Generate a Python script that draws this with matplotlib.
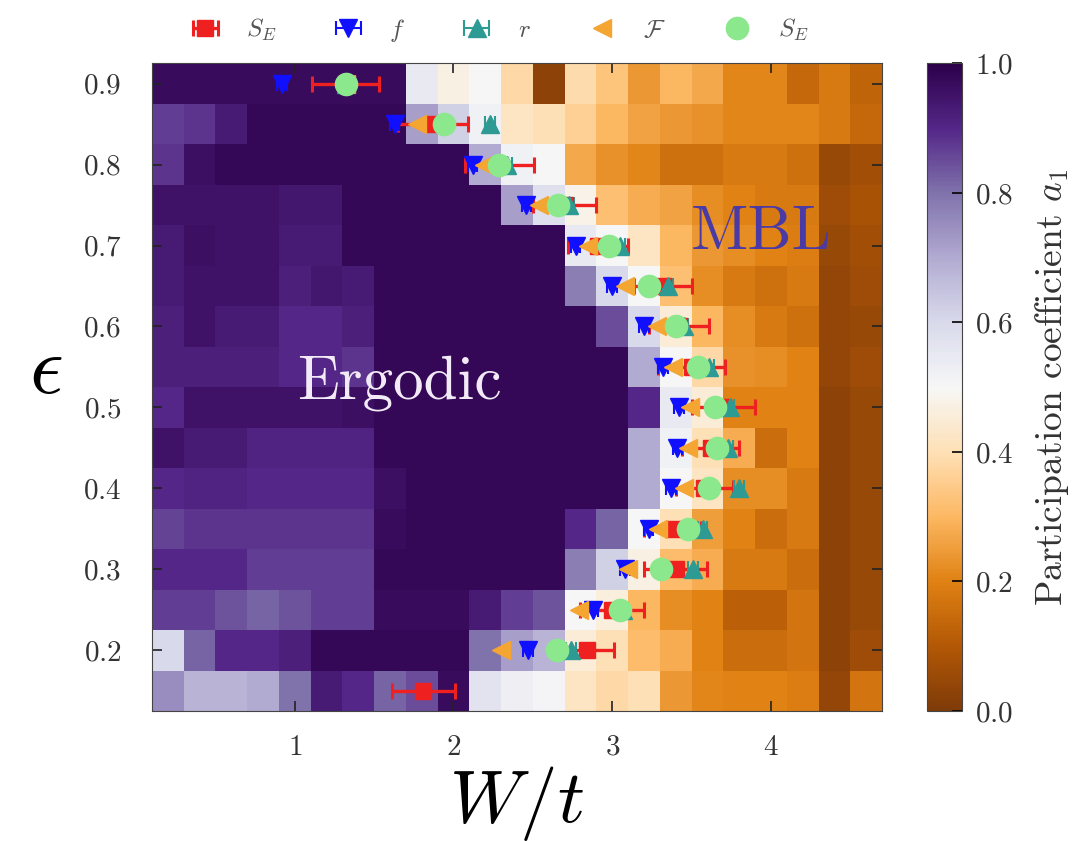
import numpy as np
import matplotlib
matplotlib.use("Agg")
import matplotlib.pyplot as plt

# fonts: computer modern look
plt.rcParams['font.family'] = 'serif'
plt.rcParams['font.serif'] = ['cmr10', 'DejaVu Serif']
plt.rcParams['mathtext.fontset'] = 'cm'
plt.rcParams['axes.formatter.use_mathtext'] = True

# heatmap grid (cell centers)
w_centers = [0.2, 0.4, 0.6, 0.8, 1.0, 1.2, 1.4, 1.6, 1.8, 2.0, 2.2, 2.4,
             2.6, 2.8, 3.0, 3.2, 3.4, 3.6, 3.8, 4.0, 4.2, 4.4, 4.6]
eps_centers = [0.15, 0.2, 0.25, 0.3, 0.35, 0.4, 0.45, 0.5,
               0.55, 0.6, 0.65, 0.7, 0.75, 0.8, 0.85, 0.9]

# participation coefficient a_1, one row per epsilon (bottom to top)
a1 = [
    [0.75, 0.68, 0.68, 0.70, 0.80, 0.93, 0.90, 0.82, 0.85, 0.97, 0.57, 0.53, 0.51, 0.42, 0.38, 0.40, 0.24, 0.21, 0.20, 0.20, 0.19, 0.04, 0.17],
    [0.60, 0.82, 0.90, 0.90, 0.92, 0.98, 0.98, 0.98, 0.98, 0.98, 0.80, 0.72, 0.68, 0.45, 0.40, 0.31, 0.28, 0.20, 0.15, 0.15, 0.17, 0.03, 0.06],
    [0.87, 0.87, 0.84, 0.82, 0.84, 0.87, 0.87, 0.97, 0.97, 0.97, 0.93, 0.87, 0.84, 0.50, 0.46, 0.30, 0.22, 0.20, 0.12, 0.12, 0.17, 0.03, 0.05],
    [0.90, 0.90, 0.90, 0.87, 0.87, 0.87, 0.87, 0.98, 0.98, 0.98, 0.98, 0.98, 0.98, 0.78, 0.62, 0.47, 0.31, 0.28, 0.18, 0.18, 0.15, 0.03, 0.05],
    [0.86, 0.88, 0.88, 0.88, 0.88, 0.88, 0.88, 0.97, 0.98, 0.98, 0.98, 0.98, 0.98, 0.90, 0.82, 0.50, 0.40, 0.25, 0.20, 0.15, 0.18, 0.03, 0.05],
    [0.90, 0.91, 0.91, 0.90, 0.90, 0.90, 0.90, 0.96, 0.98, 0.98, 0.98, 0.98, 0.98, 0.98, 0.98, 0.70, 0.50, 0.42, 0.22, 0.22, 0.18, 0.03, 0.05],
    [0.95, 0.93, 0.93, 0.91, 0.91, 0.91, 0.91, 0.98, 0.98, 0.98, 0.98, 0.98, 0.98, 0.98, 0.98, 0.70, 0.52, 0.40, 0.28, 0.15, 0.20, 0.03, 0.05],
    [0.90, 0.95, 0.95, 0.95, 0.95, 0.95, 0.96, 0.98, 0.98, 0.98, 0.98, 0.98, 0.98, 0.98, 0.98, 0.90, 0.55, 0.45, 0.20, 0.20, 0.20, 0.03, 0.05],
    [0.92, 0.92, 0.92, 0.92, 0.90, 0.90, 0.88, 0.98, 0.98, 0.98, 0.98, 0.98, 0.98, 0.98, 0.98, 0.70, 0.50, 0.38, 0.23, 0.22, 0.20, 0.04, 0.06],
    [0.92, 0.95, 0.93, 0.93, 0.90, 0.90, 0.92, 0.98, 0.98, 0.98, 0.98, 0.98, 0.98, 0.98, 0.85, 0.60, 0.45, 0.30, 0.22, 0.18, 0.16, 0.04, 0.05],
    [0.93, 0.95, 0.95, 0.95, 0.92, 0.94, 0.93, 0.98, 0.98, 0.98, 0.98, 0.98, 0.98, 0.78, 0.60, 0.50, 0.32, 0.22, 0.18, 0.16, 0.18, 0.04, 0.06],
    [0.93, 0.96, 0.95, 0.95, 0.93, 0.93, 0.98, 0.98, 0.98, 0.98, 0.98, 0.98, 0.98, 0.55, 0.50, 0.42, 0.30, 0.24, 0.22, 0.20, 0.19, 0.05, 0.07],
    [0.95, 0.95, 0.95, 0.95, 0.94, 0.94, 0.98, 0.98, 0.98, 0.98, 0.98, 0.72, 0.58, 0.48, 0.32, 0.28, 0.26, 0.22, 0.20, 0.18, 0.18, 0.06, 0.08],
    [0.88, 0.96, 0.98, 0.98, 0.98, 0.98, 0.98, 0.98, 0.98, 0.98, 0.70, 0.52, 0.50, 0.27, 0.23, 0.21, 0.16, 0.16, 0.18, 0.18, 0.16, 0.05, 0.07],
    [0.87, 0.88, 0.93, 0.98, 0.98, 0.98, 0.98, 0.98, 0.72, 0.62, 0.52, 0.42, 0.40, 0.36, 0.30, 0.26, 0.24, 0.23, 0.21, 0.21, 0.21, 0.18, 0.14],
    [0.97, 0.97, 0.97, 0.97, 0.97, 0.97, 0.97, 0.97, 0.55, 0.47, 0.50, 0.38, 0.03, 0.39, 0.33, 0.24, 0.30, 0.27, 0.21, 0.21, 0.14, 0.18, 0.13],
]

# transition points
eps_se = [0.15, 0.2, 0.25, 0.3, 0.35, 0.4, 0.45, 0.5, 0.55, 0.6, 0.65, 0.7, 0.75, 0.8, 0.85, 0.9]
w_se = [1.81, 2.84, 3.00, 3.40, 3.38, 3.58, 3.62, 3.70, 3.50, 3.42, 3.32, 2.91, 2.70, 2.29, 1.87, 1.32]
w_se_err = [0.20, 0.17, 0.20, 0.20, 0.18, 0.18, 0.18, 0.20, 0.21, 0.19, 0.18, 0.19, 0.20, 0.22, 0.22, 0.21]

eps_pts = [0.2, 0.25, 0.3, 0.35, 0.4, 0.45, 0.5, 0.55, 0.6, 0.65, 0.7, 0.75, 0.8, 0.85, 0.9]
w_f = [2.47, 2.88, 3.08, 3.23, 3.37, 3.41, 3.42, 3.32, 3.20, 3.00, 2.77, 2.46, 2.12, 1.63, 0.92]
w_r = [2.74, 3.07, 3.51, 3.57, 3.80, 3.73, 3.74, 3.61, 3.45, 3.35, 3.05, 2.73, 2.34, 2.23, 1.32]
w_F = [2.30, 2.79, 3.10, 3.29, 3.45, 3.48, 3.49, 3.38, 3.28, 3.08, 2.85, 2.54, 2.19, 1.77, 1.32]
w_se2 = [2.65, 3.05, 3.31, 3.48, 3.61, 3.66, 3.65, 3.54, 3.40, 3.23, 2.98, 2.66, 2.29, 1.94, 1.32]

cbar_ticks = [0.0, 0.2, 0.4, 0.6, 0.8, 1.0]

# cell edges from centers
w_edges = np.append(np.array(w_centers) - 0.1, w_centers[-1] + 0.1)
eps_edges = np.append(np.array(eps_centers) - 0.025, eps_centers[-1] + 0.025)

fig = plt.figure(figsize=(10.77, 8.41), dpi=100)
ax = fig.add_axes([0.141, 0.1546, 0.678, 0.770])
cax = fig.add_axes([0.861, 0.1546, 0.0325, 0.770])

mesh = ax.pcolormesh(w_edges, eps_edges, np.array(a1), cmap='PuOr', vmin=0, vmax=1)

ax.errorbar(w_se, eps_se, xerr=w_se_err, fmt='s', color='#ee2020', ms=12,
            elinewidth=2.4, capsize=6, capthick=2.2, label=r'$S_E$')
ax.errorbar(w_f, eps_pts, xerr=0.03, fmt='v', color='#1010ff', ms=13,
            elinewidth=1.5, capsize=5, capthick=1.5, label=r'$f$')
ax.errorbar(w_r, eps_pts, xerr=0.03, fmt='^', color='#2e9a94', ms=13,
            elinewidth=1.5, capsize=6, capthick=1.5, label=r'$r$')
ax.errorbar(w_F, eps_pts, fmt='<', color='#f4a532', ms=13, label=r'$\mathcal{F}$')
ax.errorbar(w_se2, eps_pts, fmt='o', color='#8ce88c', ms=16, label=r'$S_E$')

ax.text(1.66, 0.53, 'Ergodic', color='#f2eaf6', fontsize=44, ha='center', va='center')
ax.text(3.94, 0.715, 'MBL', color='#4a3aa6', fontsize=45, ha='center', va='center')

ax.set_xlim(w_edges[0], w_edges[-1])
ax.set_ylim(eps_edges[0], eps_edges[-1])
ax.set_xticks([1, 2, 3, 4])
ax.set_yticks([0.2, 0.3, 0.4, 0.5, 0.6, 0.7, 0.8, 0.9])
ax.tick_params(direction='in', top=True, right=True, length=7, width=1.2,
               labelsize=21, labelcolor='#333333', color='#222222')
ax.tick_params(axis='y', pad=22)
ax.tick_params(axis='x', pad=17)
for s in ax.spines.values():
    s.set_color('#444444')

ax.set_xlabel(r'$W/t$', fontsize=54, labelpad=2)
ax.set_ylabel(r'$\epsilon$', fontsize=60, rotation=0, va='center', ha='center')
ax.yaxis.set_label_coords(-0.145, 0.523)

cb = fig.colorbar(mesh, cax=cax, ticks=cbar_ticks)
cb.ax.tick_params(direction='in', length=7, width=1.2, labelsize=21,
                  labelcolor='#333333', pad=9)
cb.outline.set_edgecolor('#444444')
cb.set_label(r'Participation coefficient $a_1$', fontsize=27, color='#333333', labelpad=14)

ax.legend(loc='center', bbox_to_anchor=(0.477, 1.051), ncol=5, frameon=False,
          fontsize=18, handlelength=1.1, handletextpad=1.1, columnspacing=2.3,
          labelcolor='#555555')

fig.savefig('out.png', dpi=100)
